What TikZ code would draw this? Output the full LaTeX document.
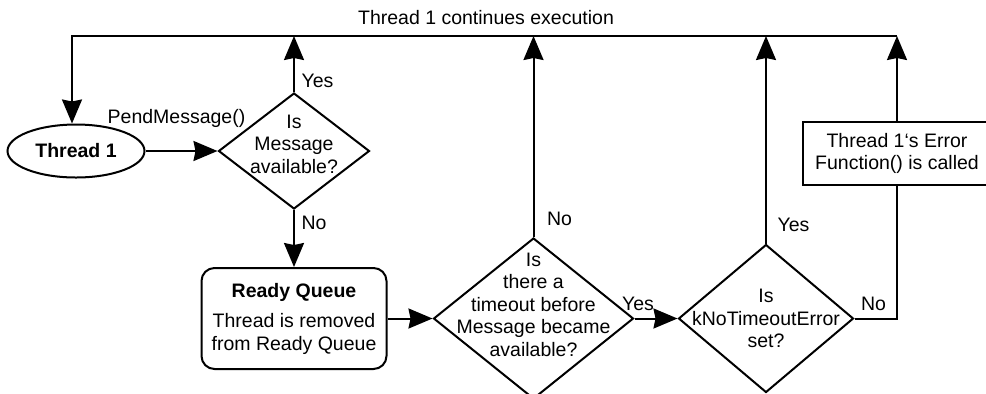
\documentclass[tikz,border=0pt]{standalone}
\usepackage{fontspec}
\setmainfont{Liberation Sans}
\usetikzlibrary{arrows.meta, positioning, shapes.geometric}

\begin{document}
\begin{tikzpicture}[
        x=0.5pt, y=-0.5pt,
        every node/.style={font=\fontsize{9.75}{11.25}\selectfont},
        start/.style={ellipse, draw, line width=1pt, inner sep=0pt, minimum width=68.5pt, minimum height=26.5pt, font=\fontsize{9.75}{11.25}\selectfont\bfseries},
        decision/.style={diamond, draw, line width=1pt, inner sep=0pt},
        question/.style={align=center, inner sep=0pt},
        queue/.style={rectangle, draw, line width=1pt, rounded corners=6.5pt, align=center, minimum width=92.5pt, minimum height=50.5pt},
        errbox/.style={rectangle, draw, line width=1pt, align=center, minimum width=94pt, minimum height=31.5pt},
        arrow/.style={-{Stealth[length=12pt, width=10pt, inset=1pt]}, line width=1pt},
        line/.style={line width=1pt},
        node distance=1cm and 1cm
        ]
        \useasboundingbox (0,0) rectangle (986,393);

        % Nodes
        \node (thread1) [start] at (76,151) {Thread 1};
        \node (avail) [decision, minimum width=75.5pt, minimum height=58pt, right=36pt of thread1] {};
        \node (availtext) [question, yshift=3.5pt] at (avail) {Is\\Message\\available?};
        \node (ready) [queue, below=28.5pt of avail] {\textbf{Ready Queue}\\[4pt]Thread is removed\\from Ready Queue};
        \node (timeout) [decision, minimum width=100pt, minimum height=80.5pt, right=22.5pt of ready] {};
        \node (timeouttext) [question, yshift=7pt] at (timeout) {Is\\there a\\timeout before\\Message became\\available?};
        \node (errflag) [decision, minimum width=87.5pt, minimum height=74pt, right=21.5pt of timeout] {};
        \node (errflagtext) [question] at (errflag) {Is\\kNoTimeoutError\\set?};
        \node (errfunc) [errbox] at (897,153.5) {Thread 1‘s Error\\Function() is called};
        \coordinate (topL) at (72,36);
        \node (contlabel) at (486,18) {Thread 1 continues execution};

        % Arrows with labels
        \draw [arrow] (thread1) -- node[midway, above, yshift=8pt, xshift=-2.5pt] {PendMessage()} (avail);
        \draw [arrow] (avail.north) -- node[pos=0.2, right] {Yes} (avail.north |- topL);
        \draw [arrow] (avail) -- node[pos=0.23, right] {No} (ready);
        \draw [arrow] (ready) -- (timeout);
        \draw [arrow] (timeout.north) -- node[pos=0.09, right, xshift=3pt] {No} (timeout.north |- topL);
        \draw [arrow] (timeout) -- node[pos=0.08, above] {Yes} (errflag);
        \draw [arrow] (errflag.north) -- node[pos=0.09, right, xshift=2pt] {Yes} (errflag.north |- topL);
        \draw [line] (errflag.east) -- node[pos=0.45, above] {No} (errflag.east -| errfunc.south) -- (errfunc.south);
        \draw [arrow] (errfunc.north) -- (errfunc.north |- topL);
        \draw [arrow] (errfunc.north |- topL) -- (topL) -- (topL |- thread1.north);

    \end{tikzpicture}
\end{document}
